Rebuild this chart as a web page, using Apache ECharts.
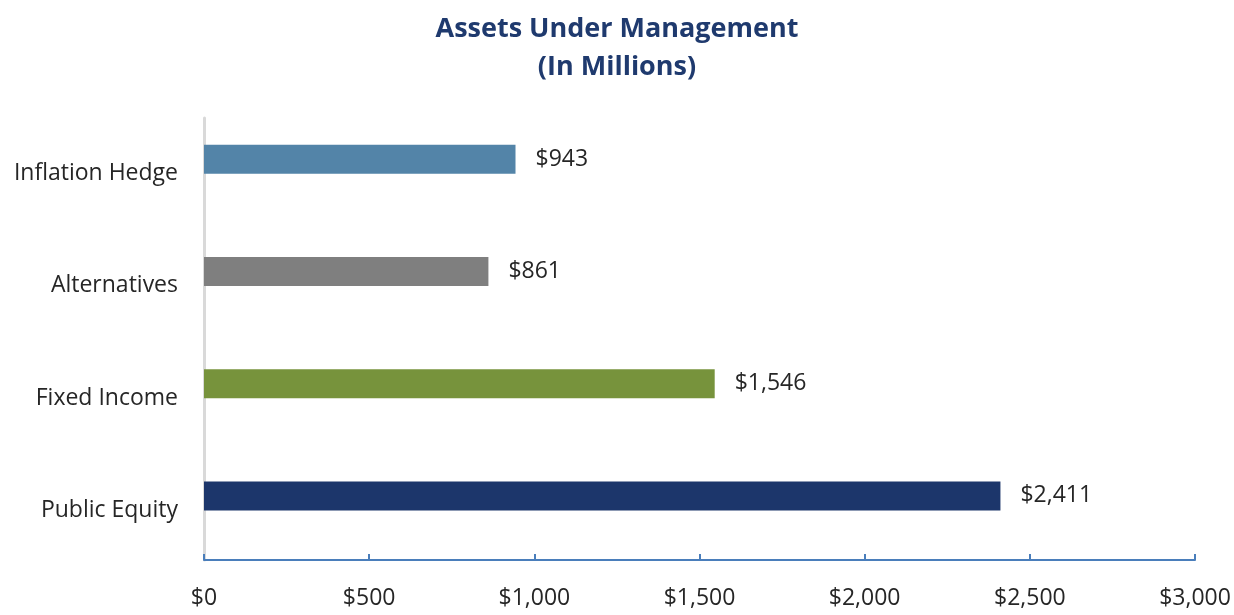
<!DOCTYPE html>
<html>
<head>
<meta charset="utf-8">
<script src="https://cdn.jsdelivr.net/npm/echarts@6/dist/echarts.min.js"></script>
<style>
  html, body { margin: 0; padding: 0; background: #fff; }
  #chart { width: 1234px; height: 615px; }
</style>
</head>
<body>
<div id="chart"></div>
<script>
var categories = ['Inflation Hedge', 'Alternatives', 'Fixed Income', 'Public Equity'];
var values = [943, 861, 1546, 2411];
var barColors = ['#5384a8', '#7f7f7f', '#77933c', '#1c366b'];
var xTicks = [0, 500, 1000, 1500, 2000, 2500, 3000];

var font = '"Open Sans", "Noto Sans", sans-serif';
var textColor = '#262626';

function money(v) {
  return '$' + Number(v).toLocaleString('en-US');
}

var chart = echarts.init(document.getElementById('chart'), null, { renderer: 'canvas' });

var option = {
  animation: false,
  title: {
    text: 'Assets Under Management\n(In Millions)',
    left: 'center',
    top: 5,
    textStyle: {
      fontFamily: font,
      fontSize: 27,
      fontWeight: 'bold',
      color: '#1f3a6e',
      lineHeight: 38
    }
  },
  // grid 0: frame with the visible axes, grid 1: the bars (excel puts them a bit higher)
  grid: [
    { left: 204, right: 39, top: 118, bottom: 55 },
    { left: 204, right: 39, top: 103, bottom: 63 }
  ],
  xAxis: [{
    gridIndex: 0,
    type: 'value',
    min: xTicks[0],
    max: xTicks[xTicks.length - 1],
    interval: 500,
    axisLine: { show: true, lineStyle: { color: '#4a7ebb', width: 2 } },
    axisTick: { show: true, inside: true, length: 6, lineStyle: { color: '#4a7ebb', width: 2 } },
    splitLine: { show: false },
    axisLabel: {
      margin: 27,
      fontFamily: font,
      fontSize: 23,
      color: textColor,
      formatter: money
    }
  }, {
    gridIndex: 1,
    type: 'value',
    min: xTicks[0],
    max: xTicks[xTicks.length - 1],
    interval: 500,
    show: false
  }],
  yAxis: [{
    gridIndex: 0,
    type: 'category',
    inverse: true,
    data: categories,
    axisLine: { show: true, lineStyle: { color: '#d9d9d9', width: 3 } },
    axisTick: { show: false },
    axisLabel: { show: false }
  }, {
    gridIndex: 1,
    type: 'category',
    inverse: true,
    data: categories,
    axisLine: { show: false },
    axisTick: { show: false },
    axisLabel: {
      margin: 26,
      fontFamily: font,
      fontSize: 23,
      lineHeight: 29,
      color: textColor,
      // empty first line pushes the name a bit below the bar, as in the original
      formatter: function (v) { return '\n' + v; }
    }
  }],
  series: [{
    type: 'bar',
    xAxisIndex: 1,
    yAxisIndex: 1,
    barWidth: 29,
    data: values.map(function (v, i) {
      return { value: v, itemStyle: { color: barColors[i] } };
    }),
    label: {
      show: true,
      position: 'right',
      distance: 20,
      fontFamily: font,
      fontSize: 23,
      color: textColor,
      formatter: function (p) { return money(p.value); }
    }
  }]
};

chart.setOption(option);
</script>
</body>
</html>
